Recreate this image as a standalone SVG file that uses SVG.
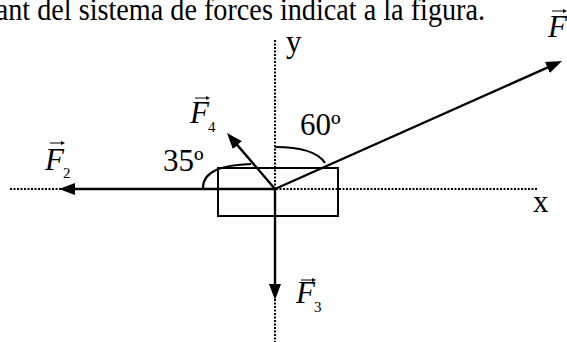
<svg xmlns="http://www.w3.org/2000/svg" width="567" height="342" viewBox="0 0 567 342">
<style>
.t{font-family:"Liberation Serif","Times New Roman",serif;fill:#000}
.lab{font-size:31px}
.fi{font-size:31px;font-style:italic}
.sub{font-size:15px}
.axis{stroke:#000;stroke-width:2;stroke-dasharray:2 1.5;fill:none}
.vec{stroke:#000;stroke-width:2.4;fill:none}
.arc{stroke:#000;stroke-width:2.2;fill:none}
.ov{stroke:#000;stroke-width:1;fill:none}
</style>
<defs>
<marker id="ah" markerUnits="userSpaceOnUse" markerWidth="16" markerHeight="12" refX="6" refY="6" orient="auto">
<path d="M0,0 L16,6 L0,12 z" fill="#000"/>
</marker>
<marker id="sh" markerUnits="userSpaceOnUse" markerWidth="4" markerHeight="4" refX="1" refY="2" orient="auto">
<path d="M0,0 L4,2 L0,4 z" fill="#000"/>
</marker>
</defs>
<rect width="567" height="342" fill="#fff"/>
<text class="t" transform="scale(0.91 1)" x="533" y="20" font-size="31" text-anchor="end">ant del sistema de forces indicat a la figura.</text>
<g id="axes">
<line class="axis" x1="10" y1="189" x2="537" y2="189"/>
<line class="axis" x1="275" y1="40" x2="275" y2="342"/>
<text class="t lab" x="286" y="52">y</text>
<text class="t lab" x="533" y="212">x</text>
</g>
<g id="body">
<rect x="218" y="168" width="120" height="48" fill="none" stroke="#000" stroke-width="2"/>
</g>
<g id="angles">
<path class="arc" d="M275,147 C301,147 318,152 325,163"/>
<path class="arc" d="M203,188 C203,171 222,165 251,164"/>
<text class="t lab" x="300" y="135">60º</text>
<text class="t lab" x="163" y="171">35º</text>
</g>
<g id="connectors">
<line class="vec" x1="275" y1="189" x2="69" y2="189" marker-end="url(#ah)"/>
<line class="vec" x1="275" y1="189" x2="275" y2="290" marker-end="url(#ah)"/>
<line class="vec" x1="275" y1="189" x2="552.9" y2="65.1" marker-end="url(#ah)"/>
<line class="vec" x1="275" y1="189" x2="233.5" y2="140.6" marker-end="url(#ah)"/>
</g>
<g id="F1">
<text class="t fi" x="548" y="37">F</text>
<line class="ov" x1="552" y1="11" x2="564" y2="11" marker-end="url(#sh)"/>
</g>
<g id="F2">
<text class="t fi" x="45" y="170">F</text>
<text class="t sub" x="63" y="178">2</text>
<line class="ov" x1="50" y1="143" x2="62" y2="143" marker-end="url(#sh)"/>
</g>
<g id="F3">
<text class="t fi" x="296" y="303">F</text>
<text class="t sub" x="314" y="312">3</text>
<line class="ov" x1="301" y1="280" x2="313" y2="280" marker-end="url(#sh)"/>
</g>
<g id="F4">
<text class="t fi" x="190" y="123">F</text>
<text class="t sub" x="208" y="132">4</text>
<line class="ov" x1="195" y1="98" x2="207" y2="98" marker-end="url(#sh)"/>
</g>
</svg>
